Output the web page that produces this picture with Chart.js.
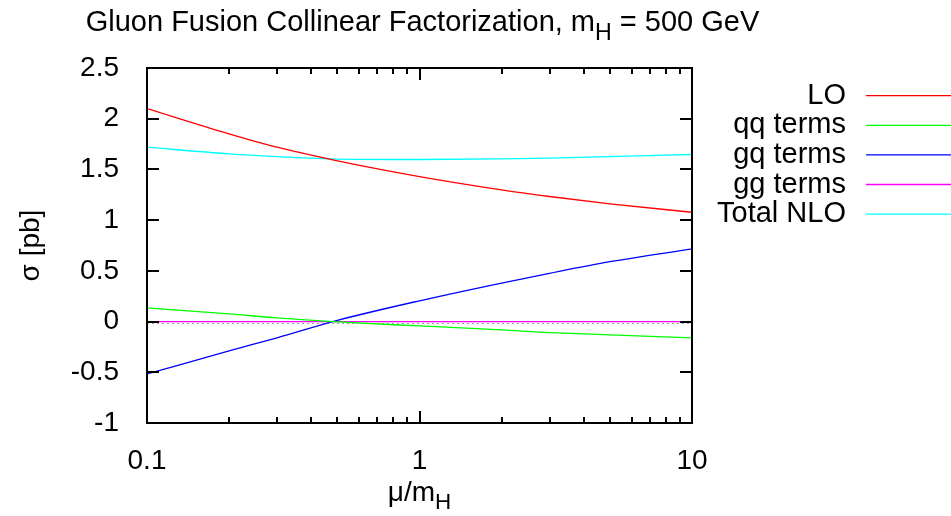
<!DOCTYPE html>
<html>
<head>
<meta charset="utf-8">
<script src="https://cdn.jsdelivr.net/npm/chart.js@4.4.1/dist/chart.umd.min.js"></script>
<style>
  html, body { margin: 0; padding: 0; background: #fff; overflow: hidden; }
</style>
</head>
<body>
<canvas id="chart" width="951" height="516"></canvas>
<script>
// mu / m_H sample points and the cross section pieces in pb
const mu      = [0.1, 0.2, 0.3, 0.5, 1, 2, 3, 5, 10];
const loVals  = [2.100, 1.851, 1.719, 1.585, 1.430, 1.299, 1.233, 1.161, 1.078];
const qqVals  = [0.135, 0.076, 0.036, -0.003, -0.043, -0.082, -0.108, -0.131, -0.161];
const gqVals  = [-0.516, -0.290, -0.160, 0.012, 0.205, 0.380, 0.476, 0.590, 0.717];
const ggVals  = [0, 0, 0, 0, 0, 0, 0, 0, 0];
const nloVals = [1.719, 1.654, 1.627, 1.602, 1.598, 1.604, 1.611, 1.627, 1.647];

const seriesNames  = ["LO", "qq terms", "gq terms", "gg terms", "Total NLO"];
const seriesColors = ["#ff0000", "#00ff00", "#0000ff", "#ff00ff", "#00ffff"];

const xTicks = [0.1, 0.2, 0.3, 0.4, 0.5, 0.6, 0.7, 0.8, 0.9, 1, 2, 3, 4, 5, 6, 7, 8, 9, 10];
const xLabels = { 0.1: "0.1", 1: "1", 10: "10" };
const yTicks = [-1, -0.5, 0, 0.5, 1, 1.5, 2, 2.5];

const FONT = '"Liberation Sans", Arial, Helvetica, sans-serif';
const FS = 28;     // tick labels, axis titles
const FS_BIG = 29; // title and key

function pts(ys) { return mu.map((x, i) => ({ x: x, y: ys[i] })); }

const datasets = [loVals, qqVals, gqVals, ggVals, nloVals].map((vals, i) => ({
  label: seriesNames[i],
  data: pts(vals),
  borderColor: seriesColors[i],
  backgroundColor: seriesColors[i],
  borderWidth: 1.3,
  pointRadius: 0,
  cubicInterpolationMode: "monotone",
  fill: false
}));

// text with an optional subscript part, e.g. m_H
function richText(ctx, parts, x, y, align, size) {
  const widths = parts.map(p => {
    ctx.font = (p.sub ? size * 0.8 : size) + "px " + FONT;
    return ctx.measureText(p.t).width;
  });
  const total = widths.reduce((a, b) => a + b, 0);
  let cx = align === "center" ? x - total / 2 : align === "right" ? x - total : x;
  ctx.textAlign = "left";
  parts.forEach((p, i) => {
    ctx.font = (p.sub ? size * 0.8 : size) + "px " + FONT;
    ctx.fillText(p.t, cx, p.sub ? y + size * 0.3 : y);
    cx += widths[i];
  });
}

const frame = {
  id: "frame",
  beforeDatasetsDraw(chart) {
    const { ctx, chartArea: a, scales: { y } } = chart;
    const y0 = Math.round(y.getPixelForValue(0)) + 1.5;
    ctx.save();
    ctx.strokeStyle = "#a0a0a0";
    ctx.lineWidth = 1;
    ctx.setLineDash([2, 3]);
    ctx.beginPath();
    ctx.moveTo(a.left, y0);
    ctx.lineTo(a.right, y0);
    ctx.stroke();
    ctx.restore();
  },
  afterDatasetsDraw(chart) {
    const { ctx, chartArea: a, scales: { x, y } } = chart;
    ctx.save();
    ctx.strokeStyle = "#000";
    ctx.lineWidth = 2;
    ctx.beginPath();
    // inward ticks, mirrored on both sides
    x.ticks.forEach(t => {
      const px = Math.round(x.getPixelForValue(t.value));
      const len = xLabels[t.value] ? 12 : 6;
      ctx.moveTo(px, a.bottom); ctx.lineTo(px, a.bottom - len);
      ctx.moveTo(px, a.top); ctx.lineTo(px, a.top + len);
    });
    y.ticks.forEach(t => {
      const py = Math.round(y.getPixelForValue(t.value));
      ctx.moveTo(a.left, py); ctx.lineTo(a.left + 12, py);
      ctx.moveTo(a.right, py); ctx.lineTo(a.right - 12, py);
    });
    ctx.stroke();
    ctx.strokeRect(a.left, a.top, a.right - a.left, a.bottom - a.top);
    ctx.restore();
  },
  afterDraw(chart) {
    const { ctx, chartArea: a } = chart;
    ctx.save();
    ctx.fillStyle = "#000";
    ctx.textBaseline = "alphabetic";
    const cx = (a.left + a.right) / 2;
    richText(ctx, [{ t: "Gluon Fusion Collinear Factorization, m" }, { t: "H", sub: true }, { t: " = 500 GeV" }],
      cx + 3, 31, "center", FS_BIG);
    richText(ctx, [{ t: "\u03bc/m" }, { t: "H", sub: true }], cx, 501, "center", FS);

    ctx.save();
    ctx.translate(31, (a.top + a.bottom) / 2);
    ctx.rotate(-Math.PI / 2);
    ctx.font = FS + "px " + FONT;
    ctx.textAlign = "center";
    ctx.textBaseline = "middle";
    ctx.fillText("\u03c3 [pb]", 0, 0);
    ctx.restore();

    // key: right-aligned names followed by a line sample
    chart.data.datasets.forEach((ds, i) => {
      const ry = 95.7 + i * 29.6;
      ctx.font = FS_BIG + "px " + FONT;
      ctx.textAlign = "right";
      ctx.textBaseline = "middle";
      ctx.fillStyle = "#000";
      ctx.fillText(ds.label, 846, ry);
      ctx.strokeStyle = ds.borderColor;
      ctx.lineWidth = 1.3;
      ctx.beginPath();
      ctx.moveTo(866, ry);
      ctx.lineTo(951, ry);
      ctx.stroke();
    });
    ctx.restore();
  }
};

new Chart(document.getElementById("chart"), {
  type: "line",
  data: { datasets: datasets },
  options: {
    responsive: false,
    animation: false,
    devicePixelRatio: 1,
    layout: { padding: { left: 0, top: 68, right: 259, bottom: 0 } },
    plugins: { legend: { display: false }, tooltip: { enabled: false }, title: { display: false } },
    scales: {
      x: {
        type: "logarithmic",
        min: 0.1,
        max: 10,
        grid: { display: false },
        border: { display: false },
        afterBuildTicks: s => { s.ticks = xTicks.map(v => ({ value: v, major: !!xLabels[v] })); },
        afterFit: s => { s.height = 516 - 423; },
        ticks: {
          autoSkip: false,
          maxRotation: 0,
          padding: 13,
          color: "#000",
          font: { family: FONT, size: FS },
          callback: v => xLabels[v] || ""
        }
      },
      y: {
        min: -1,
        max: 2.5,
        grid: { display: false },
        border: { display: false },
        afterBuildTicks: s => { s.ticks = yTicks.map(v => ({ value: v })); },
        afterFit: s => { s.width = 147; },
        ticks: {
          padding: 20,
          color: "#000",
          font: { family: FONT, size: FS },
          callback: v => String(v)
        }
      }
    }
  },
  plugins: [frame]
});
</script>
</body>
</html>
